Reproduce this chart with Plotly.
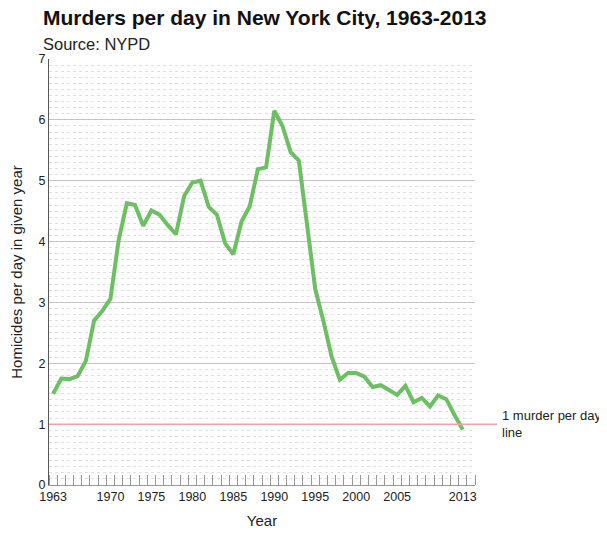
import plotly.graph_objects as go

years = list(range(1963, 2014))
murders_per_day = [
    1.50, 1.75, 1.74, 1.79, 2.04, 2.70, 2.86, 3.06, 4.02, 4.63,
    4.60, 4.26, 4.51, 4.44, 4.27, 4.12, 4.75, 4.97, 5.00, 4.57,
    4.44, 3.97, 3.79, 4.33, 4.58, 5.19, 5.22, 6.15, 5.90, 5.47,
    5.33, 4.28, 3.22, 2.69, 2.11, 1.73, 1.84, 1.84, 1.78, 1.61,
    1.64, 1.56, 1.48, 1.63, 1.36, 1.43, 1.29, 1.47, 1.41, 1.15,
    0.91,
]
year_labels = [1963, 1970, 1975, 1980, 1985, 1990, 1995, 2000, 2005, 2013]
y_ticks = [0, 1, 2, 3, 4, 5, 6, 7]
threshold = 1

FONT = "Liberation Sans, Arial, sans-serif"
# the page body keeps its default 8px margin, so the figure is 8px smaller
W, H = 599, 526

fig = go.Figure()
fig.add_trace(go.Scatter(
    x=years, y=murders_per_day, mode="lines",
    line=dict(color="#6cbf62", width=4),
    hoverinfo="x+y", showlegend=False,
))

# 1 murder per day reference line
fig.add_shape(type="line", xref="paper", yref="y", x0=0, x1=1.052,
              y0=threshold, y1=threshold,
              line=dict(color="#f2a3a3", width=1.5), layer="above")
fig.add_annotation(xref="paper", yref="y", x=1.058, y=threshold,
                   text="1 murder per day<br>line", showarrow=False,
                   xanchor="left", yanchor="middle", align="left",
                   font=dict(family=FONT, size=13, color="#222"))

fig.update_layout(
    width=W, height=H,
    margin=dict(l=41, r=132, t=51, b=49, autoexpand=False),
    paper_bgcolor="white", plot_bgcolor="white",
    font=dict(family=FONT, size=12.5, color="#222"),
    title=dict(
        text="<b>Murders per day in New York City, 1963-2013</b>",
        x=35 / W, xanchor="left", y=1 - 10 / H, yanchor="middle",
        font=dict(family=FONT, size=21, color="#111"),
    ),
    xaxis=dict(
        range=[1962.5, 2014.5], tickvals=year_labels, ticks="",
        showgrid=False, zeroline=False, showline=True, automargin=False,
        linecolor="#999", linewidth=1,
        minor=dict(tick0=1962.5, dtick=1, ticks="inside", ticklen=10,
                   tickcolor="#999", tickwidth=1, showgrid=False),
        title=dict(text="Year", font=dict(size=15), standoff=12),
        tickfont=dict(size=12.5),
    ),
    xaxis2=dict(
        range=[1962.5, 2014.5], overlaying="x", anchor="y",
        tickvals=[1967.5 + 5 * i for i in range(10)], ticks="inside",
        ticklen=10, tickcolor="#444", tickwidth=1, showticklabels=False,
        showgrid=False, zeroline=False, showline=False, automargin=False,
    ),
    yaxis=dict(
        range=[0, 7], tickvals=y_ticks, showgrid=True, automargin=False,
        gridcolor="#c4c4c4", gridwidth=1, zeroline=False,
        showline=True, linecolor="#555", linewidth=1, ticks="",
        minor=dict(dtick=0.1, showgrid=True, gridcolor="#e0e0e0",
                   griddash="dot", gridwidth=1),
        title=dict(text="Homicides per day in given year", font=dict(size=15),
                   standoff=12),
        tickfont=dict(size=12.5),
    ),
)
fig.add_annotation(xref="paper", yref="paper", x=-8 / 426, y=(477 - 36) / 426,
                   text="Source: NYPD", showarrow=False, xanchor="left",
                   yanchor="middle", font=dict(family=FONT, size=16.5, color="#222"))

fig.write_html("out.html")
